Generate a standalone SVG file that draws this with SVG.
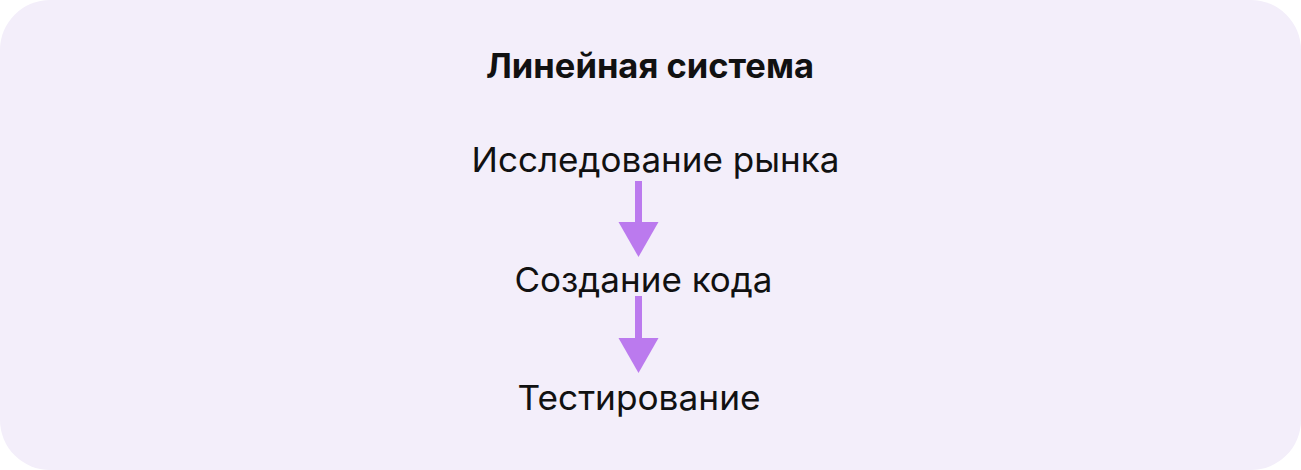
<svg xmlns="http://www.w3.org/2000/svg" width="1301" height="470" viewBox="0 0 1301 470">
<style>
.t{font-family:Inter,"Noto Sans",sans-serif;fill:#111111;text-anchor:middle}
.title{font-size:34px;font-weight:700}
.n{font-size:34.5px;font-weight:400}
.shaft{stroke:#BB7AEE;stroke-width:7}
.head{fill:#BB7AEE}
</style>
<rect x="0" y="0" width="1301" height="470" rx="50" ry="50" fill="#F3EEFA"/>
<g id="title"><text class="t title" x="650" y="78" textLength="328" lengthAdjust="spacingAndGlyphs">Линейная система</text></g>
<g id="node1"><text class="t n" x="655.5" y="172" textLength="368" lengthAdjust="spacingAndGlyphs">Исследование рынка</text></g>
<g id="node2"><text class="t n" x="643.5" y="292" textLength="258" lengthAdjust="spacingAndGlyphs">Создание кода</text></g>
<g id="node3"><text class="t n" x="639" y="410" textLength="243" lengthAdjust="spacingAndGlyphs">Тестирование</text></g>
<g id="connectors">
<line class="shaft" x1="638.5" y1="181" x2="638.5" y2="224"/>
<polygon class="head" points="618.5,222 658.5,222 638.5,257"/>
<line class="shaft" x1="638.5" y1="296" x2="638.5" y2="340"/>
<polygon class="head" points="618.5,338 658.5,338 638.5,373"/>
</g>
</svg>
